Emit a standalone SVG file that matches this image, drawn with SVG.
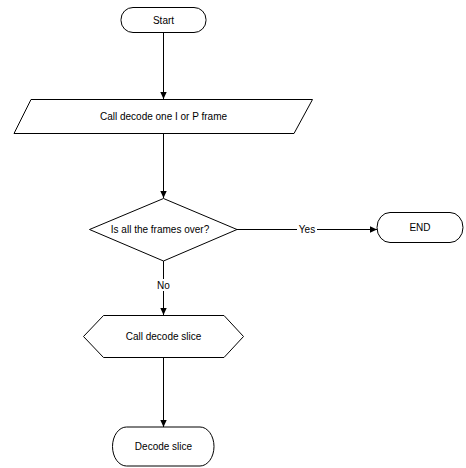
<svg xmlns="http://www.w3.org/2000/svg" width="466" height="468" viewBox="0 0 466 468">
<style>
.s{fill:#fff;stroke:#000;stroke-width:1}
.t{font-family:"Liberation Sans",Arial,sans-serif;font-size:10px;fill:#000;text-anchor:middle;dominant-baseline:central}
.c{fill:none;stroke:#000;stroke-width:1}
</style>
<defs>
<marker id="a" markerWidth="8" markerHeight="8" refX="7" refY="4" orient="auto" markerUnits="userSpaceOnUse">
<path d="M0,0.8 L7,4 L0,7.2 Z" fill="#000"/>
</marker>
</defs>
<rect width="466" height="468" fill="#fff"/>
<g id="connectors">
<line class="c" x1="163.5" y1="32" x2="163.5" y2="99" marker-end="url(#a)"/>
<line class="c" x1="163.5" y1="133" x2="163.5" y2="198" marker-end="url(#a)"/>
<line class="c" x1="163.5" y1="261" x2="163.5" y2="315" marker-end="url(#a)"/>
<line class="c" x1="237" y1="229.5" x2="377" y2="229.5" marker-end="url(#a)"/>
<line class="c" x1="163.5" y1="357" x2="163.5" y2="427" marker-end="url(#a)"/>
<rect x="154" y="279" width="19" height="12" fill="#fff"/>
<text class="t" x="163.5" y="285">No</text>
<rect x="297" y="224" width="20" height="12" fill="#fff"/>
<text class="t" x="307" y="229.5">Yes</text>
</g>
<g id="start">
<rect class="s" x="121" y="7.5" width="85" height="25" rx="12" ry="12"/>
<text class="t" x="163.5" y="20">Start</text>
</g>
<g id="call-frame">
<polygon class="s" points="31,99.5 312.5,99.5 294,133.5 14,133.5"/>
<text class="t" x="163.5" y="116.5">Call decode one I or P frame</text>
</g>
<g id="decision">
<polygon class="s" points="163.5,198.5 237,229.5 163.5,261 89.5,229.5"/>
<text class="t" x="160" y="229.5">Is all the frames over?</text>
</g>
<g id="end">
<rect class="s" x="377" y="212.5" width="86" height="30" rx="13" ry="15"/>
<text class="t" x="420" y="227.5">END</text>
</g>
<g id="call-slice">
<polygon class="s" points="103.5,315.5 224,315.5 243.5,336.5 224,357.5 103.5,357.5 83.5,336.5"/>
<text class="t" x="163.5" y="336.5">Call decode slice</text>
</g>
<g id="decode-slice">
<rect class="s" x="112.5" y="427" width="101.5" height="39" rx="14" ry="19.5"/>
<text class="t" x="163.5" y="446.5">Decode slice</text>
</g>
</svg>
